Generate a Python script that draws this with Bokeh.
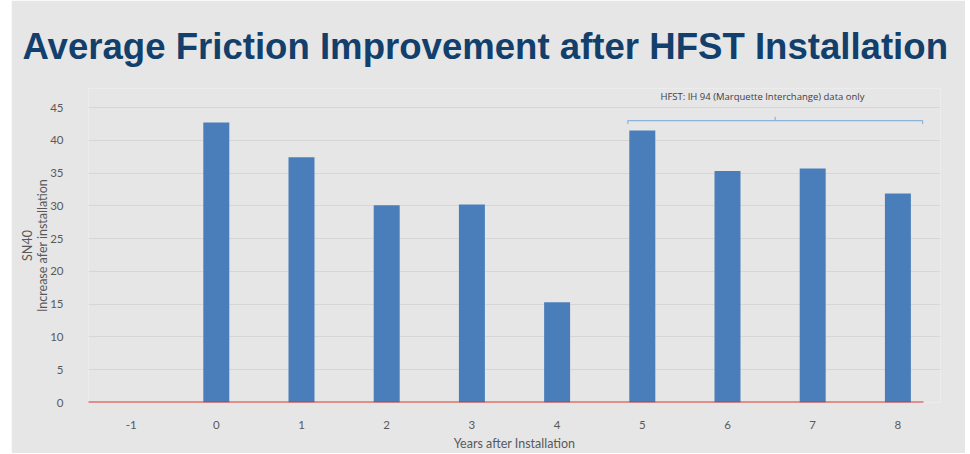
from bokeh.plotting import figure
from bokeh.models import Label, FixedTicker, Range1d, ColumnDataSource, Title
from bokeh.embed import file_html
from bokeh.resources import INLINE

years = [-1, 0, 1, 2, 3, 4, 5, 6, 7, 8]
values = [0, 42.7, 37.4, 30.1, 30.2, 15.3, 41.5, 35.3, 35.7, 31.9]
y_ticks = [0, 5, 10, 15, 20, 25, 30, 35, 40, 45]
title_text = "Average Friction Improvement after HFST Installation"
note_text = "HFST: IH 94 (Marquette Interchange) data only"
bracket_years = [4.83, 8.29]

BG = "#e6e6e6"
p = figure(width=954, height=453, output_backend="svg", toolbar_location=None,
           x_range=Range1d(-1.5, 8.5), y_range=Range1d(0, 47.9),
           min_border_left=77, min_border_right=25, min_border_top=88, min_border_bottom=40)
p.styles = {"margin-left": "11px", "margin-top": "0px"}
p.background_fill_color = BG
p.border_fill_color = BG
p.outline_line_color = None

src = ColumnDataSource(dict(x=years, top=values))
p.vbar(x="x", top="top", width=0.305, bottom=0, source=src, fill_color="#4a7ebb", line_color=None)

# zero line
p.segment(x0=[-1.6], y0=[0], x1=[8.3], y1=[0], line_color="#d9322b", line_width=2)

# bracket
b0, b1 = bracket_years
mid = (b0 + b1) / 2
bc = "#8db3dc"
p.segment(x0=[b0, b0, b1, mid], y0=[43.0, 43.0, 43.0, 43.0],
          x1=[b1, b0, b1, mid], y1=[43.0, 42.5, 42.5, 43.6], line_color=bc, line_width=1.2)
p.add_layout(Label(x=6.41, y=46.7, text=note_text, text_font="Open Sans", text_font_size="9.5px",
                   text_color="#404040", text_align="center", text_baseline="middle"))

# title
t = Title(text=title_text, text_font="Liberation Sans", text_font_style="bold",
          text_font_size="36.6px", text_color="#123f6b", align="left", offset=-66,
          standoff=44)
p.add_layout(t, "above")

p.xaxis.ticker = FixedTicker(ticks=years)
p.xaxis.major_label_overrides = {-1: "-1"}
p.yaxis.ticker = FixedTicker(ticks=y_ticks)
for ax in (p.xaxis[0], p.yaxis[0]):
    ax.axis_line_color = None
    ax.major_tick_line_color = None
    ax.minor_tick_line_color = None
    ax.major_label_text_font = "Lato"
    ax.major_label_text_font_size = "11.5px"
    ax.major_label_text_color = "#595959"
    ax.axis_label_text_font = "Lato"
    ax.axis_label_text_font_size = "12.5px"
    ax.axis_label_text_font_style = "normal"
    ax.axis_label_text_color = "#595959"
    ax.axis_label_text_line_height = 1.0
p.xaxis.major_label_standoff = 12
p.xaxis.axis_label = "Years after Installation"
p.xaxis.axis_label_standoff = 4
p.yaxis.major_label_standoff = 19
p.yaxis.axis_label = "SN40\nIncrease afer installation"
p.yaxis.axis_label_standoff = -3

p.xgrid.grid_line_color = None
p.ygrid.grid_line_color = "#d6d6d6"

open("out.html", "w").write(file_html(p, INLINE))
